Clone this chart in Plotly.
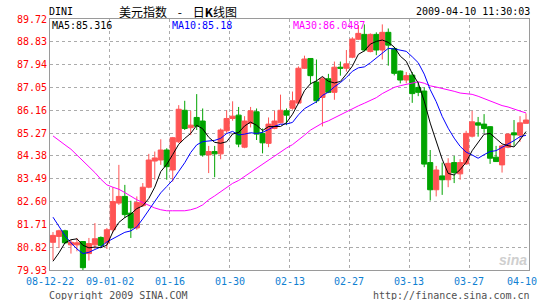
import plotly.graph_objects as go

# ---------------- data ----------------
x_labels = ["08-12-22", "09-01-02", "01-16", "01-30", "02-13", "02-27", "03-13", "03-27", "04-10"]
y_ticks = [79.93, 80.82, 81.71, 82.60, 83.49, 84.38, 85.27, 86.16, 87.05, 87.94, 88.83, 89.72]
y_tick_text = ["79.93", "80.82", "81.71", "82.60", "83.49", "84.38", "85.27", "86.16", "87.05", "87.94", "88.83", "89.72"]

opens = [81.01, 81.24, 81.46, 80.91, 80.91, 81.04, 80.57, 80.91, 81.20, 80.99,
         81.50, 82.54, 82.80, 82.15, 81.57, 82.44, 83.16, 84.18, 84.22, 84.61,
         83.83, 84.93, 86.16, 85.48, 85.88, 85.74, 84.42, 84.55, 84.46, 85.36,
         85.84, 85.97, 84.72, 85.65, 86.10, 85.26, 84.87, 85.45, 85.67, 86.14,
         86.24, 86.44, 87.80, 88.18, 87.26, 86.66, 87.39, 86.86, 87.84, 87.80,
         88.23, 88.93, 89.12, 88.45, 89.12, 88.51, 89.20, 88.57, 87.69, 87.34,
         87.53, 87.05, 86.91, 84.12, 83.06, 83.60, 83.45, 84.12, 83.68, 84.07,
         85.15, 85.67, 85.62, 85.52, 84.33, 84.03, 84.72, 85.28, 85.19, 85.65]
highs = [81.41, 81.50, 81.50, 81.11, 81.18, 81.06, 81.18, 81.76, 81.24, 81.57,
         83.16, 84.03, 83.25, 82.63, 82.80, 83.32, 84.46, 84.55, 85.03, 84.68,
         85.12, 86.36, 86.53, 86.14, 86.79, 86.23, 84.77, 84.77, 85.45, 86.16,
         86.51, 86.29, 85.93, 86.29, 86.23, 85.45, 85.88, 86.14, 86.77, 86.23,
         86.89, 87.87, 88.29, 88.18, 88.14, 87.46, 87.58, 88.06, 88.06, 88.51,
         89.01, 89.48, 89.51, 89.16, 89.20, 89.51, 89.35, 88.62, 87.71, 87.65,
         87.65, 87.26, 87.05, 84.61, 83.99, 84.12, 84.29, 84.38, 84.25, 85.36,
         86.14, 85.90, 86.01, 85.54, 84.77, 84.81, 85.26, 85.78, 85.93, 86.04]
lows = [80.31, 80.79, 80.95, 80.57, 80.66, 79.90, 80.30, 80.75, 80.84, 80.75,
        81.40, 82.47, 81.96, 81.18, 81.50, 82.39, 83.12, 83.45, 84.03, 83.45,
        83.38, 84.88, 85.39, 85.19, 85.39, 84.35, 83.71, 83.55, 84.25, 85.28,
        85.75, 84.72, 84.68, 85.49, 85.00, 84.48, 84.72, 85.42, 85.65, 85.58,
        86.18, 86.40, 87.77, 87.17, 86.44, 85.53, 86.83, 86.57, 87.51, 87.67,
        88.19, 88.90, 88.45, 88.42, 88.31, 88.14, 87.90, 87.52, 87.21, 87.21,
        86.45, 86.71, 83.94, 82.64, 82.80, 82.86, 83.16, 83.32, 83.45, 84.03,
        85.10, 85.13, 85.28, 84.07, 84.16, 83.73, 84.68, 84.77, 84.93, 85.65]
closes = [81.28, 81.46, 80.99, 81.01, 80.99, 80.02, 80.96, 81.15, 80.88, 81.50,
          82.60, 82.80, 82.09, 81.57, 82.56, 83.16, 84.22, 84.30, 84.61, 83.96,
          85.09, 86.20, 85.45, 85.58, 85.54, 84.42, 84.55, 84.46, 85.39, 85.84,
          85.93, 84.84, 85.74, 86.14, 85.23, 84.89, 85.62, 85.74, 86.16, 85.97,
          86.53, 87.80, 88.16, 87.51, 86.53, 87.39, 86.86, 87.84, 87.80, 87.97,
          88.94, 89.16, 88.51, 89.12, 88.51, 89.20, 88.70, 87.60, 87.34, 87.51,
          86.81, 86.86, 84.06, 83.06, 83.83, 83.45, 84.09, 83.73, 84.12, 85.26,
          85.71, 85.58, 85.45, 84.29, 84.16, 84.77, 85.23, 85.20, 85.67, 85.78]

ma5_head = [80.27, 80.60, 80.99, 81.11]
ma10_head = [81.99, 81.63, 81.27, 80.99, 80.75, 80.57, 80.62, 80.73, 80.83]
ma30_head = [85.16, 85.00, 84.81, 84.64, 84.42, 84.16, 83.96, 83.73, 83.47, 83.25,
             83.16, 83.08, 82.95, 82.80, 82.67, 82.56, 82.44, 82.35, 82.28, 82.24,
             82.24, 82.24, 82.24, 82.28, 82.35, 82.47, 82.67, 82.82, 82.99]

legend_texts = ["MA5:85.316", "MA10:85.18", "MA30:86.0487"]


def moving_average(head, n):
    vals = list(head)
    for i in range(len(head), len(closes)):
        vals.append(sum(closes[i - n + 1:i + 1]) / n)
    return vals


ma5 = moving_average(ma5_head, 5)
ma10 = moving_average(ma10_head, 10)
ma30 = moving_average(ma30_head, 30)

n = len(closes)
xs = [i + 0.5 for i in range(n)]

RED = "#FF5454"
GREEN = "#00A400"
MONO = "DejaVu Sans Mono"
NB = "\u00a0"

fig = go.Figure()
fig.add_trace(go.Candlestick(
    x=xs, open=opens, high=highs, low=lows, close=closes,
    increasing=dict(line=dict(color=RED, width=1), fillcolor=RED),
    decreasing=dict(line=dict(color=GREEN, width=1), fillcolor=GREEN),
    whiskerwidth=0, hoverinfo="skip", showlegend=False,
))
for vals, col in [(ma30, "#FF00FF"), (ma10, "#0000FF"), (ma5, "#000000")]:
    fig.add_trace(go.Scatter(x=xs, y=vals, mode="lines",
                             line=dict(color=col, width=1),
                             hoverinfo="skip", showlegend=False))

fig.update_layout(
    width=545, height=300,
    margin=dict(l=50, r=16, t=19, b=30),
    paper_bgcolor="white", plot_bgcolor="white",
    boxgap=0.1, boxgroupgap=0.05,
    showlegend=False,
    font=dict(family=MONO, size=10, color="#000000"),
)
fig.update_xaxes(
    range=[0, n], tickvals=[10 * k for k in range(len(x_labels))],
    showticklabels=False, showgrid=True, gridcolor="#ABABAB", griddash="dot",
    gridwidth=1, zeroline=False, showline=True, mirror=True, linecolor="#9A9A9A",
    linewidth=1, rangeslider=dict(visible=False), fixedrange=True,
)
fig.update_yaxes(
    range=[y_ticks[0], y_ticks[-1]], tickvals=y_ticks, ticktext=y_tick_text,
    tickfont=dict(family=MONO, size=10, color="#FF0000"),
    showgrid=True, gridcolor="#ABABAB", griddash="dot", gridwidth=1,
    zeroline=False, showline=True, mirror=True, linecolor="#9A9A9A", linewidth=1,
    fixedrange=True,
)

ann = []
# x labels
for k, lab in enumerate(x_labels):
    shift = -7 if k == len(x_labels) - 1 else 0
    ann.append(dict(x=10 * k, xref="x", y=0, yref="paper", text=lab, showarrow=False,
                    xanchor="center", yanchor="middle", yshift=-11, xshift=shift,
                    font=dict(family=MONO, size=10, color="#0F80D2")))
# title row
ann.append(dict(x=0, xref="paper", y=1, yref="paper", text="DINI", showarrow=False,
                xanchor="left", yanchor="middle", yshift=8, xshift=-3,
                font=dict(family=MONO, size=10, color="#000000")))
title_cn = "美元指数" + NB * 4 + "-" + NB * 4 + "日<b>K</b>线图"
ann.append(dict(x=0, xref="paper", y=1, yref="paper", text=title_cn,
                showarrow=False, xanchor="left", yanchor="middle", yshift=8, xshift=67,
                font=dict(family="Noto Sans CJK SC", size=12, color="#000000")))
ann.append(dict(x=1, xref="paper", y=1, yref="paper", text="2009-04-10 11:30:03",
                showarrow=False, xanchor="right", yanchor="middle", yshift=8, xshift=3,
                font=dict(family=MONO, size=10, color="#000000")))
# MA legend inside plot
for txt, col, xs_ in zip(legend_texts, ["#000000", "#0000FF", "#FF00FF"], [0, 120, 241]):
    ann.append(dict(x=0, xref="paper", y=1, yref="paper", text=txt, showarrow=False,
                    xanchor="left", yanchor="middle", yshift=-6, xshift=xs_,
                    font=dict(family=MONO, size=10, color=col)))
# footer
ann.append(dict(x=0, xref="paper", y=0, yref="paper", text="Copyright 2009 SINA.COM",
                showarrow=False, xanchor="left", yanchor="middle", yshift=-25, xshift=-3,
                font=dict(family=MONO, size=10, color="#505050")))
ann.append(dict(x=1, xref="paper", y=0, yref="paper", text="http://finance.sina.com.cn",
                showarrow=False, xanchor="right", yanchor="middle", yshift=-25, xshift=3,
                font=dict(family=MONO, size=10, color="#505050")))
# watermark
ann.append(dict(x=1, xref="paper", y=0, yref="paper", text="<b><i>sina</i></b>",
                showarrow=False, xanchor="right", yanchor="bottom", yshift=0, xshift=0,
                font=dict(family="Liberation Sans", size=14, color="#CFCFCF")))
fig.update_layout(annotations=ann)

fig.write_html("out.html")
